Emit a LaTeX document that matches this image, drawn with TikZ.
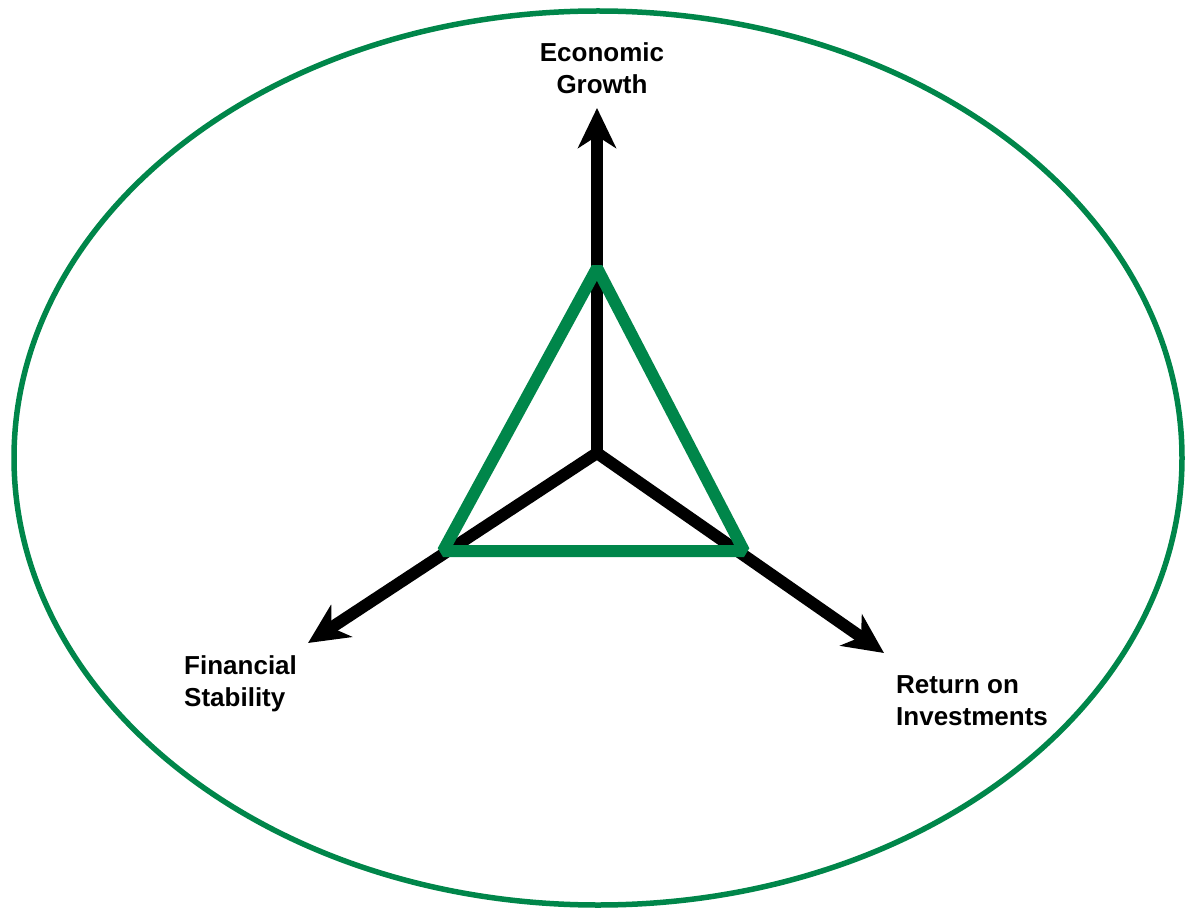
\documentclass[tikz,border=0pt]{standalone}
\usepackage{fontspec}
\setmainfont{Liberation Sans}
\usepackage{tikz}
\usetikzlibrary{arrows.meta}
\definecolor{fingreen}{RGB}{0,134,74}
\tikzstyle{axis}=[draw=black,line width=12pt,-{Stealth[length=40pt,width=38pt,inset=12pt]}]
\tikzstyle{goal}=[inner sep=0pt,font=\bfseries\fontsize{26}{32}\selectfont]
\tikzstyle{tri}=[draw=fingreen,line width=12pt,line join=bevel]
\tikzset{every picture/.style={
    x=1pt,y=-1pt
  }
}
\begin{document}
\begin{tikzpicture}
      \useasboundingbox (0,0) rectangle (1186,909);
      \draw[fingreen,line width=5.5pt] (598,458) ellipse (584 and 447);
      \coordinate (o) at (597,453);
      \coordinate (eg) at (597,108);
      \coordinate (fs) at (308,643);
      \coordinate (ri) at (884,653);
      \coordinate (t1) at (597,268);
      \coordinate (t2) at (443,551);
      \coordinate (t3) at (744,551);
      \draw[axis] (o) -- (eg);
      \draw[axis] (o) -- (fs);
      \draw[axis] (o) -- (ri);
      \draw[tri] (t1) -- (t2) -- (t3) -- cycle;
      \node[goal,align=center] at (602,68) (growth) {Economic\\Growth};
      \node[goal,align=left,anchor=west] at (184,684) (stab) {Financial\\Stability};
      \node[goal,align=left,anchor=west] at (896,701) (ret) {Return on\\Investments};
    \end{tikzpicture}
\end{document}
